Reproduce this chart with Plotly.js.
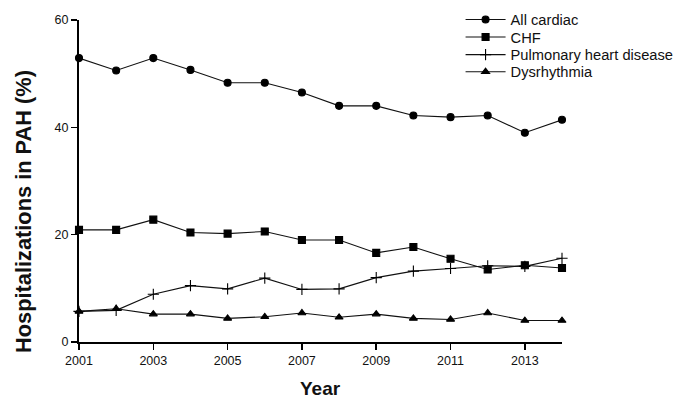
<!DOCTYPE html>
<html><head><meta charset="utf-8">
<script src="https://cdn.plot.ly/plotly-3.0.1.min.js"></script>
<style>html,body{margin:0;padding:0;background:#fff}#chart{width:690px;height:399px}</style>
</head><body><div id="chart"></div>
<script>
var years = [2001,2002,2003,2004,2005,2006,2007,2008,2009,2010,2011,2012,2013,2014];
var allCardiac = [52.9,50.6,52.9,50.7,48.3,48.3,46.5,44.0,44.0,42.2,41.9,42.2,39.0,41.4];
var chf = [20.9,20.9,22.8,20.4,20.2,20.6,19.0,19.0,16.6,17.7,15.5,13.5,14.3,13.8];
var pulmonary = [5.7,5.9,8.9,10.5,9.9,11.9,9.8,9.9,12.0,13.2,13.7,14.2,14.1,15.6];
var dysrhythmia = [5.7,6.2,5.2,5.2,4.4,4.7,5.4,4.6,5.2,4.4,4.2,5.4,4.0,4.0];
var seriesNames = ['All cardiac','CHF','Pulmonary heart disease','Dysrhythmia'];
var xTicks = [2001,2003,2005,2007,2009,2011,2013];
var yTicks = [0,20,40,60];

var lineStyle = {color:'#111', width:1.1};
function tr(name, y, sym, size, lg){
  return {x:years, y:y, name:name, type:'scatter', mode:'lines+markers', legend:lg,
    line:lineStyle, marker:{symbol:sym, size:size, color:'#000', line:{color:'#000', width:1.1}}, cliponaxis:false};
}
var data = [
  tr(seriesNames[0], allCardiac, 'circle', 7, 'legend'),
  tr(seriesNames[1], chf, 'square', 7, 'legend2'),
  tr(seriesNames[2], pulmonary, 'cross-thin-open', 8, 'legend3'),
  tr(seriesNames[3], dysrhythmia, 'triangle-up', 7, 'legend4')
];
function lg(y){
  return {x:0.79, y:y, xanchor:'left', yanchor:'middle', bgcolor:'rgba(0,0,0,0)',
    font:{size:14.7, color:'#111'}, itemwidth:40, borderwidth:0};
}
var layout = {
  width:690, height:399,
  margin:{l:79, r:128, t:20, b:57, autoexpand:false},
  paper_bgcolor:'#fff', plot_bgcolor:'#fff',
  font:{family:'Liberation Sans, Arial, sans-serif', color:'#111', size:12.5},
  showlegend:true,
  legend:lg(1.0), legend2:lg(0.946), legend3:lg(0.891), legend4:lg(0.838),
  xaxis:{range:[2001,2014], tickvals:xTicks, ticktext:xTicks.map(String),
    showgrid:false, zeroline:false, showline:true, linecolor:'#000', linewidth:2,
    ticks:'outside', ticklen:6, tickwidth:1.5, tickcolor:'#000',
    tickfont:{size:12.5, color:'#111'}},
  yaxis:{range:[0,60], tickvals:yTicks, ticktext:yTicks.map(String),
    showgrid:false, zeroline:false, showline:true, linecolor:'#000', linewidth:2,
    ticks:'outside', ticklen:6, tickwidth:1.5, tickcolor:'#000',
    tickfont:{size:12.5, color:'#111'}},
  annotations:[
    {text:'<b>Hospitalizations in PAH (%)</b>', xref:'paper', yref:'paper',
     x:-0.115, y:0.405, xanchor:'center', yanchor:'middle', textangle:-90, showarrow:false,
     font:{size:21.8, color:'#111'}},
    {text:'<b>Year</b>', xref:'paper', yref:'paper', x:0.5, y:-0.145, xanchor:'center', yanchor:'middle',
     showarrow:false, borderpad:0, font:{size:19, color:'#111'}}
  ]
};
Plotly.newPlot('chart', data, layout, {displayModeBar:false, staticPlot:true});
</script></body></html>
